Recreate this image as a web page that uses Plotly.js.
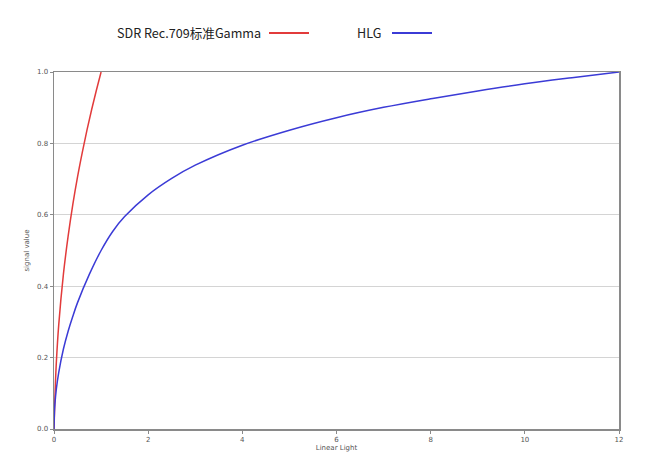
<!DOCTYPE html>
<html><head><meta charset="utf-8">
<script src="https://cdn.plot.ly/plotly-3.0.1.min.js"></script>
<style>html,body{margin:0;padding:0;background:#fff;}#c{width:650px;height:464px;}</style>
</head><body><div id="c"></div>
<script>
const seriesNames = ["SDR Rec.709标准Gamma", "HLG"];
const sdrX = [0, 0.01, 0.018, 0.03, 0.05, 0.1, 0.2, 0.3, 0.4, 0.5, 0.6, 0.7, 0.8, 0.9, 1.0];
const sdrY = [0, 0.045, 0.081, 0.128, 0.187, 0.291, 0.434, 0.540, 0.629, 0.706, 0.774, 0.837, 0.895, 0.949, 1.0];
const hlgX = [0, 0.01, 0.02, 0.05, 0.1, 0.2, 0.3, 0.4, 0.5, 0.75, 1, 1.25, 1.5, 2, 2.5, 3, 4, 5, 6, 7, 8, 9, 10, 11, 12];
const hlgY = [0, 0.05, 0.071, 0.112, 0.158, 0.224, 0.274, 0.316, 0.354, 0.433, 0.5, 0.554, 0.595, 0.656, 0.702, 0.739, 0.795, 0.837, 0.872, 0.901, 0.925, 0.947, 0.967, 0.984, 1.0];
const xTicks = [0, 2, 4, 6, 8, 10, 12];
const yTicks = [0, 0.2, 0.4, 0.6, 0.8, 1.0];
const xTitle = "Linear Light";
const yTitle = "signal value";
const colors = ["#e23b3b", "#3b3bd6"];

const traces = [
  {x: sdrX, y: sdrY, name: seriesNames[0], mode: "lines", line: {color: colors[0], width: 1.5, shape: "spline"}},
  {x: hlgX, y: hlgY, name: seriesNames[1], mode: "lines", line: {color: colors[1], width: 1.5, shape: "spline"}}
];

const tickFont = {family: "DejaVu Sans, sans-serif", size: 7, color: "#555"};
const legY = 1 + (72-33)/357;
const layout = {
  width: 650, height: 464,
  margin: {l: 54, r: 31, t: 72, b: 35},
  paper_bgcolor: "#fff", plot_bgcolor: "#fff",
  showlegend: false,
  xaxis: {
    range: [0, 12], tickvals: xTicks, ticktext: xTicks.map(String),
    showgrid: false, zeroline: false, showline: true, linecolor: "#8a8a8a", linewidth: 1.5, mirror: true,
    ticks: "outside", ticklen: 3, tickcolor: "#8a8a8a", tickfont: tickFont,
    title: {text: xTitle, font: {family: "DejaVu Sans, sans-serif", size: 7, color: "#555"}, standoff: 2}
  },
  yaxis: {
    range: [0, 1], tickvals: yTicks, ticktext: yTicks.map(v => v.toFixed(1)),
    showgrid: true, gridcolor: "#d4d4d4", gridwidth: 1, zeroline: false,
    showline: true, linecolor: "#8a8a8a", linewidth: 1.5, mirror: true,
    ticks: "outside", ticklen: 3, tickcolor: "#8a8a8a", tickfont: tickFont,
    title: {text: yTitle, font: {family: "DejaVu Sans, sans-serif", size: 7, color: "#555"}, standoff: 6}
  },
  annotations: [
    {xref: "paper", yref: "paper", x: (115-54)/565, y: legY, xanchor: "left", yanchor: "middle",
     text: seriesNames[0], showarrow: false, font: {family: "Noto Sans CJK SC, sans-serif", size: 12.6, color: "#222"}},
    {xref: "paper", yref: "paper", x: (355-54)/565, y: legY, xanchor: "left", yanchor: "middle",
     text: seriesNames[1], showarrow: false, font: {family: "Noto Sans CJK SC, sans-serif", size: 12.6, color: "#222"}}
  ],
  shapes: [
    {type: "line", xref: "paper", yref: "paper", x0: (269-54)/565, x1: (309-54)/565, y0: legY, y1: legY, line: {color: colors[0], width: 2}},
    {type: "line", xref: "paper", yref: "paper", x0: (392-54)/565, x1: (432-54)/565, y0: legY, y1: legY, line: {color: colors[1], width: 2}}
  ]
};
Plotly.newPlot("c", traces, layout, {displayModeBar: false, staticPlot: true});
</script></body></html>
